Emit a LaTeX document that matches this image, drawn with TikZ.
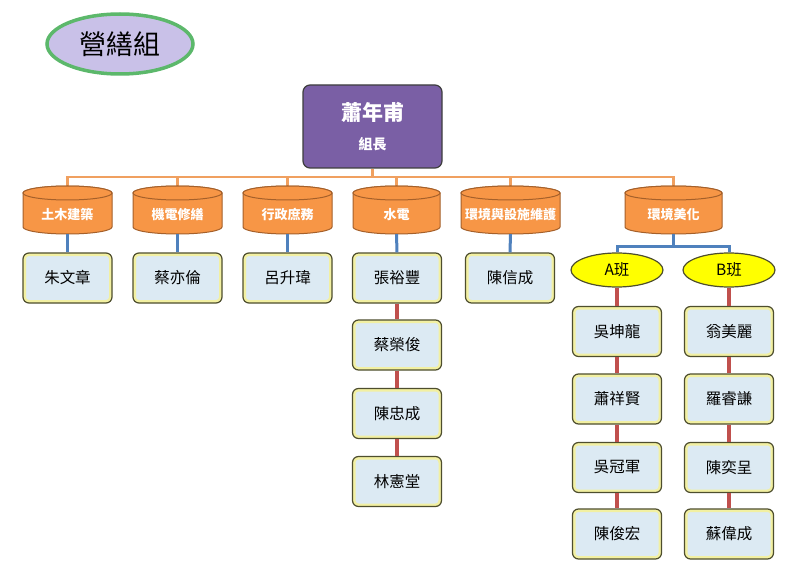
\documentclass[tikz,border=0pt]{standalone}
\usepackage{fontspec}
\setmainfont{Noto Sans CJK TC}
\usetikzlibrary{shapes.geometric}
\definecolor{titlefill}{HTML}{C9C1E8}
\definecolor{titledraw}{HTML}{5CB86B}
\definecolor{bossfill}{HTML}{7A5FA5}
\definecolor{bossdraw}{HTML}{3E3E3E}
\definecolor{cylfill}{HTML}{F79646}
\definecolor{cyldraw}{HTML}{A5602A}
\definecolor{orangeline}{HTML}{F0A060}
\definecolor{blueline}{HTML}{4F81BD}
\definecolor{redline}{HTML}{C0504D}
\definecolor{boxfill}{HTML}{DCEAF3}
\definecolor{boxdraw}{HTML}{4E4E2E}
\definecolor{boxglow}{HTML}{F2F0A2}
\definecolor{ellfill}{HTML}{FFFF00}
\tikzset{
  titlenode/.style={ellipse, draw=titledraw, line width=3.5pt, fill=titlefill,
    minimum width=146pt, minimum height=60pt, inner sep=0pt, font=\fontsize{27}{30}\selectfont},
  bossnode/.style={rectangle, rounded corners=7pt, draw=bossdraw, line width=1.2pt, fill=bossfill,
    minimum width=139pt, minimum height=83pt, text=white, align=center, inner sep=0pt},
  cyltext/.style={rectangle, inner sep=0pt, text=white, font=\bfseries\fontsize{13}{15}\selectfont},
  cylshape/.style={fill=cylfill, draw=cyldraw, line width=1pt},
  namebox/.style={rectangle, rounded corners=6pt, draw=boxdraw, line width=1.2pt, fill=boxfill,
    minimum width=89pt, minimum height=50pt, inner sep=0pt, font=\fontsize{15.5}{18}\selectfont,
    path picture={\draw[boxglow, line width=6pt, rounded corners=6pt]
      (path picture bounding box.south west) rectangle (path picture bounding box.north east);}},
  classnode/.style={ellipse, draw=boxdraw, line width=1.2pt, fill=ellfill, minimum width=92pt,
    minimum height=34pt, inner sep=0pt, font=\fontsize{15.5}{18}\selectfont},
  oline/.style={draw=orangeline, line width=2.5pt},
  bline/.style={draw=blueline, line width=3pt},
  rline/.style={draw=redline, line width=3.2pt},
}
\newcommand{\cylnode}[4]{% name, x center, width, text
  \filldraw[cylshape] ({#2-(#3)/2},193) -- ({#2-(#3)/2},227)
    arc[start angle=180, end angle=360, x radius={(#3)/2*1pt}, y radius=7pt]
    -- ({#2+(#3)/2},193)
    arc[start angle=0, end angle=180, x radius={(#3)/2*1pt}, y radius=7pt] -- cycle;
  \draw[cylshape] (#2,193) ellipse[x radius={(#3)/2*1pt}, y radius=7pt];
  \node[cyltext, minimum width=#3pt, minimum height=48pt] (#1) at (#2,210) {\raisebox{-9.5pt}[0pt][0pt]{#4}};
}
\begin{document}
\begin{tikzpicture}[x=1pt,y=-1pt]
\useasboundingbox[fill=white] (0,0) rectangle (796,575);

\node[titlenode] (title) at (120,44) {營繕組};

\node[bossnode] (boss) at (372.5,126.5)
  {{\bfseries\fontsize{21}{24}\selectfont 蕭年甫}\\[14pt]{\bfseries\fontsize{14}{16}\selectfont 組長}};

% orange connectors first (under cylinders)
\coordinate (bus) at (372.5,177);
\coordinate (c1top) at (67.5,187);
\coordinate (c2top) at (177.5,187);
\coordinate (c3top) at (287.5,187);
\coordinate (c4top) at (396.5,187);
\coordinate (c5top) at (510.5,187);
\coordinate (c6top) at (673.5,187);
\draw[oline] (boss.south) -- (bus);
\draw[oline] (bus) -| (c1top);
\draw[oline] (bus) -| (c2top);
\draw[oline] (bus) -| (c3top);
\draw[oline] (bus) -| (c4top);
\draw[oline] (bus) -| (c5top);
\draw[oline] (bus) -| (c6top);

\cylnode{c1}{67.5}{89}{土木建築}
\cylnode{c2}{177.5}{89}{機電修繕}
\cylnode{c3}{287.5}{89}{行政庶務}
\cylnode{c4}{396.5}{87}{水電}
\cylnode{c5}{510.5}{99}{環境與設施維護}
\cylnode{c6}{673.5}{97}{環境美化}

% name boxes
\node[namebox] (n1) at (67.5,278) {朱文章};
\node[namebox] (n2) at (177.5,278) {蔡亦倫};
\node[namebox] (n3) at (287.5,278) {呂升瑋};
\node[namebox] (n4a) at (397,278) {張裕豐};
\node[namebox] (n4b) at (397,345) {蔡榮俊};
\node[namebox] (n4c) at (397,413.5) {陳忠成};
\node[namebox] (n4d) at (397,481.5) {林憲堂};
\node[namebox] (n5) at (510,278) {陳信成};

\node[classnode] (ca) at (617,270) {A班};
\node[classnode] (cb) at (729,270) {B班};

\node[namebox] (a1) at (617,331.5) {吳坤龍};
\node[namebox] (a2) at (617,399) {蕭祥賢};
\node[namebox] (a3) at (617,467.5) {吳冠軍};
\node[namebox] (a4) at (617,534) {陳俊宏};
\node[namebox] (b1) at (729,331.5) {翁美麗};
\node[namebox] (b2) at (729,399) {羅睿謙};
\node[namebox] (b3) at (729,467.5) {陳奕呈};
\node[namebox] (b4) at (729,534) {蘇偉成};

% blue connectors
\draw[bline] (c1.south) -- (n1.north);
\draw[bline] (c2.south) -- (n2.north);
\draw[bline] (c3.south) -- (n3.north);
\draw[bline] (c4.south) -- (n4a.north);
\draw[bline] (c5.south) -- (n5.north);
\coordinate (split) at (673.5,247);
\draw[bline] (c6.south) -- (split);
\draw[bline] (split) -| (ca.north);
\draw[bline] (split) -| (cb.north);

% red connectors
\draw[rline] (n4a.south) -- (n4b.north);
\draw[rline] (n4b.south) -- (n4c.north);
\draw[rline] (n4c.south) -- (n4d.north);
\draw[rline] (ca.south) -- (a1.north);
\draw[rline] (a1.south) -- (a2.north);
\draw[rline] (a2.south) -- (a3.north);
\draw[rline] (a3.south) -- (a4.north);
\draw[rline] (cb.south) -- (b1.north);
\draw[rline] (b1.south) -- (b2.north);
\draw[rline] (b2.south) -- (b3.north);
\draw[rline] (b3.south) -- (b4.north);
\end{tikzpicture}
\end{document}
